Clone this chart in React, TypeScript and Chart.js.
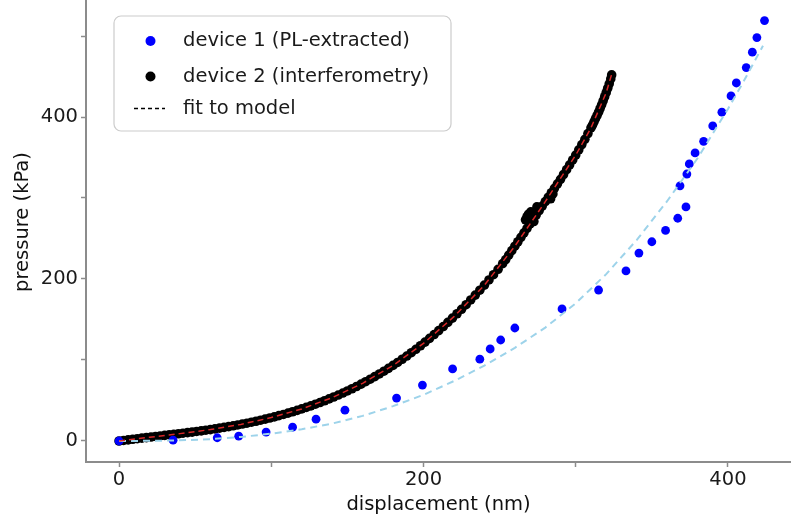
import { useEffect, useRef } from "react";
import { Chart, registerables } from "chart.js";
Chart.register(...registerables);

const FONT = "'DejaVu Sans', sans-serif";
const W = 791;
const H = 523;
const TOP_SHIFT = 18;

// device 1 (PL-extracted): [displacement nm, pressure kPa]
const device1: [number, number][] = [
  [0, 0], [35.5, 1], [64.5, 4], [78.6, 6], [96.6, 11], [114, 17], [129.4, 27], [148.4, 38],
  [182.3, 53], [199.3, 69], [219.1, 89], [237, 101], [243.8, 113.6], [250.7, 124.7], [260, 139.5],
  [291, 163], [315, 186.4], [333, 210], [341.5, 232], [350, 246], [359, 260], [367, 275],
  [372.4, 289], [368.5, 315], [373, 329.6], [374.6, 342], [378.4, 355.6], [384, 370], [390, 389],
  [396, 406], [402, 426], [405.5, 442], [412, 461], [416, 480], [419, 498], [424, 519],
];

// device 2 (interferometry)
const device2: [number, number][] = [
  [0, 0], [3, 0.7], [6, 1.4], [9, 2.1], [12, 2.8], [15, 3.5], [18, 4.2], [21, 4.9], [24, 5.6],
  [27, 6.2], [30, 6.9], [33, 7.6], [36, 8.2], [39, 8.9], [42, 9.6], [45, 10.3], [48, 11.0],
  [51, 11.8], [54, 12.5], [57, 13.3], [60, 14.1], [63, 15.0], [66, 15.9], [69, 16.8], [72, 17.8],
  [75, 18.8], [78, 19.8], [81, 20.9], [84, 22.0], [87, 23.2], [90, 24.4], [93, 25.7], [96, 27.0],
  [99, 28.4], [102, 29.8], [105, 31.3], [108, 32.8], [111, 34.4], [114, 36.1], [117, 37.8],
  [120, 39.6], [123, 41.5], [126, 43.4], [129, 45.4], [132, 47.5], [135, 49.7], [138, 52.0],
  [141, 54.3], [144, 56.7], [147, 59.2], [150, 61.8], [153, 64.5], [156, 67.3], [159, 70.2],
  [162, 73.2], [165, 76.3], [168, 79.5], [171, 82.8], [174, 86.2], [177, 89.7], [180, 93.3],
  [183, 97.0], [186, 100.9], [189, 104.9], [192, 109.0], [195, 113.2], [198, 117.6], [201, 122.1],
  [204, 126.7], [207, 131.4], [210, 136.3], [213, 141.3], [216, 146.4], [219, 151.7], [222, 157.1],
  [225, 162.6], [228, 168.3], [231, 174.1], [234, 180.1], [237, 186.2], [240, 192.4], [243, 198.8],
  [246, 205.3], [249, 212.0], [252, 219], [254, 224], [256, 229.5], [258, 235], [260, 240.5],
  [262, 246], [264, 251.5], [266, 257], [268, 262.5], [270, 268], [272, 273.5], [274, 279],
  [276, 284.5], [278, 290], [280, 295.5], [282, 301], [284, 306.5], [286, 312], [288, 317.5],
  [290, 323], [292, 329], [294, 335], [296, 341], [298, 347], [300, 353], [302, 359.5], [304, 366],
  [306, 372.5], [308, 379.5], [310, 386.5], [311, 390], [312, 394], [313, 398], [314, 402],
  [315, 406], [316, 410.5], [317, 415], [318, 420], [319, 425], [320, 430], [321, 435.5],
  [322, 441], [323, 447], [323.6, 452],
  [267, 273], [268, 277], [269, 280], [270.5, 283], [272.5, 271], [274.5, 289], [283.5, 299], [285, 305],
];

// fit to model, device 2 (red dashed)
const fit2: [number, number][] = [
  [0, 0], [20, 4.6], [40, 9.1], [60, 14.1], [80, 20.5], [100, 28.9], [120, 39.6], [140, 53.5],
  [160, 71.2], [180, 93.3], [200, 120.5], [220, 153.5], [240, 192.4], [260, 240.5], [280, 295.5],
  [300, 353], [310, 386.5], [320, 430], [323.5, 452],
];

// fit to model, device 1 (light blue dashed)
const fit1: [number, number][] = [
  [0, 0], [20, 0.2], [40, 0.8], [60, 2.3], [80, 5], [100, 9], [120, 14.5], [140, 21.5],
  [160, 31], [180, 43], [200, 57], [220, 74], [240, 93], [260, 115], [280, 140], [300, 170],
  [320, 206], [340, 248], [360, 296], [380, 349], [400, 410], [410, 443], [423, 488],
];

const xTicks = [0, 100, 200, 300, 400];
const xLabeled = [0, 200, 400];
const yTicks = [0, 100, 200, 300, 400, 500];
const yLabeled = [0, 200, 400];
const xTitle = "displacement (nm)";
const yTitle = "pressure (kPa)";
const legendLabels = ["device 1 (PL-extracted)", "device 2 (interferometry)", "fit to model"];

const toXY = (arr: [number, number][]) => arr.map(([x, y]) => ({ x, y }));

const legendPlugin = {
  id: "boxLegend",
  afterDraw(chart: any) {
    const ctx: CanvasRenderingContext2D = chart.ctx;
    const oy = TOP_SHIFT;
    ctx.save();
    const bx = 114, by = 16 + oy, bw = 337, bh = 115, r = 7;
    ctx.beginPath();
    ctx.moveTo(bx + r, by);
    ctx.lineTo(bx + bw - r, by);
    ctx.arcTo(bx + bw, by, bx + bw, by + r, r);
    ctx.lineTo(bx + bw, by + bh - r);
    ctx.arcTo(bx + bw, by + bh, bx + bw - r, by + bh, r);
    ctx.lineTo(bx + r, by + bh);
    ctx.arcTo(bx, by + bh, bx, by + bh - r, r);
    ctx.lineTo(bx, by + r);
    ctx.arcTo(bx, by, bx + r, by, r);
    ctx.closePath();
    ctx.fillStyle = "rgba(255,255,255,0.85)";
    ctx.fill();
    ctx.strokeStyle = "#cccccc";
    ctx.lineWidth = 1.2;
    ctx.stroke();

    const rows = [41 + oy, 76.5 + oy, 108.5 + oy];
    ctx.fillStyle = "#0000ff";
    ctx.beginPath();
    ctx.arc(150.5, rows[0], 5, 0, Math.PI * 2);
    ctx.fill();
    ctx.fillStyle = "#000000";
    ctx.beginPath();
    ctx.arc(150.5, rows[1], 5, 0, Math.PI * 2);
    ctx.fill();
    ctx.strokeStyle = "#000000";
    ctx.lineWidth = 1.5;
    ctx.setLineDash([4, 3]);
    ctx.beginPath();
    ctx.moveTo(134, rows[2]);
    ctx.lineTo(165, rows[2]);
    ctx.stroke();
    ctx.setLineDash([]);

    ctx.fillStyle = "#1a1a1a";
    ctx.font = `19.5px ${FONT}`;
    ctx.textAlign = "left";
    ctx.textBaseline = "middle";
    legendLabels.forEach((t, i) => ctx.fillText(t, 183, rows[i]));
    ctx.restore();
  },
};

export default function App() {
  const ref = useRef<HTMLCanvasElement>(null);
  useEffect(() => {
    const axisColor = "#8c8c8c";
    const chart = new Chart(ref.current!, {
      type: "scatter",
      data: {
        datasets: [
          {
            label: "fit2",
            data: toXY(fit2),
            showLine: true,
            borderColor: "#d62728",
            borderWidth: 1.5,
            borderDash: [6, 4],
            pointRadius: 0,
            tension: 0,
          },
          {
            label: "fit1",
            data: toXY(fit1),
            showLine: true,
            borderColor: "#9dd3ea",
            borderWidth: 2,
            borderDash: [7, 5],
            pointRadius: 0,
            tension: 0,
          },
          {
            label: legendLabels[0],
            data: toXY(device1),
            pointRadius: 4.4,
            pointBackgroundColor: "#0000ff",
            pointBorderWidth: 0,
            borderColor: "#0000ff",
          },
          {
            label: legendLabels[1],
            data: toXY(device2),
            pointRadius: 4.8,
            pointBackgroundColor: "#000000",
            pointBorderWidth: 0,
            borderColor: "#000000",
          },
        ],
      },
      options: {
        responsive: false,
        animation: false,
        devicePixelRatio: 1,
        layout: { padding: 0, autoPadding: false },
        plugins: { legend: { display: false }, tooltip: { enabled: false } },
        scales: {
          x: {
            type: "linear",
            min: -21.7,
            max: 441.4,
            afterBuildTicks: (s: any) => {
              s.ticks = xTicks.map((v) => ({ value: v }));
            },
            afterFit: (s: any) => {
              s.height = 61;
              s.paddingLeft = 0;
              s.paddingRight = 0;
            },
            ticks: {
              callback: (v: any) => (xLabeled.includes(Number(v)) ? String(v) : ""),
              font: { family: FONT, size: 19.5 },
              color: "#1a1a1a",
              padding: 1,
              maxRotation: 0,
              autoSkip: false,
            },
            grid: {
              drawOnChartArea: false,
              drawTicks: true,
              tickLength: 5,
              tickColor: axisColor,
              tickWidth: 1.5,
            },
            border: { display: true, color: axisColor, width: 2 },
            title: {
              display: true,
              text: xTitle,
              font: { family: FONT, size: 19.5 },
              color: "#111111",
              padding: { top: 0, bottom: 6 },
            },
          },
          y: {
            type: "linear",
            min: -25.93,
            max: 566.67,
            afterBuildTicks: (s: any) => {
              s.ticks = yTicks.map((v) => ({ value: v }));
            },
            afterFit: (s: any) => {
              s.width = 86;
              s.paddingTop = 0;
              s.paddingBottom = 0;
            },
            ticks: {
              callback: (v: any) => (yLabeled.includes(Number(v)) ? String(v) : ""),
              font: { family: FONT, size: 19.5 },
              color: "#1a1a1a",
              padding: 3,
              autoSkip: false,
            },
            grid: {
              drawOnChartArea: false,
              drawTicks: true,
              tickLength: 5,
              tickColor: axisColor,
              tickWidth: 1.5,
            },
            border: { display: true, color: axisColor, width: 2 },
            title: {
              display: true,
              text: yTitle,
              font: { family: FONT, size: 19.5 },
              color: "#111111",
              padding: { top: 11, bottom: 0 },
            },
          },
        },
      },
      plugins: [legendPlugin],
    });
    return () => chart.destroy();
  }, []);
  return (
    <div style={{ position: "fixed", left: 0, top: -TOP_SHIFT, width: W, height: H + TOP_SHIFT, background: "#fff" }}>
      <canvas ref={ref} width={W} height={H + TOP_SHIFT} style={{ display: "block" }} />
    </div>
  );
}
